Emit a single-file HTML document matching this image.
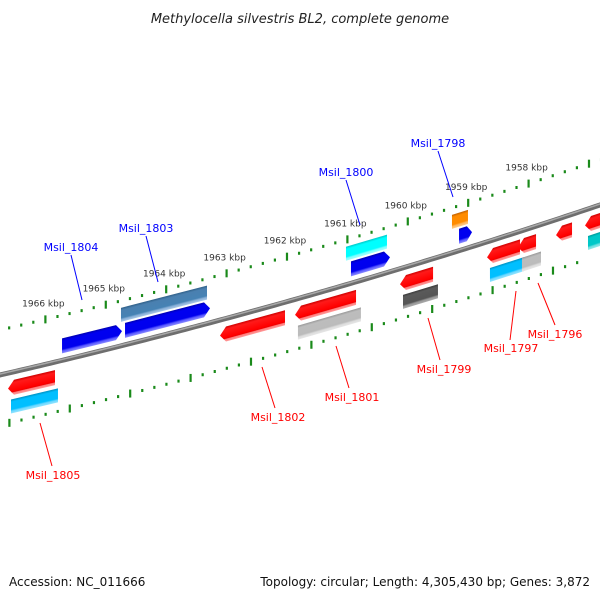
<!DOCTYPE html>
<html><head><meta charset="utf-8"><style>
html,body{margin:0;padding:0;background:#fff;}
svg{display:block;font-family:"DejaVu Sans","Liberation Sans",sans-serif;}
</style></head><body>
<svg id="chart" width="600" height="600" viewBox="0 0 600 600" xmlns="http://www.w3.org/2000/svg">
<defs>
<linearGradient id="g-red" x1="0" y1="0" x2="0" y2="1"><stop offset="0" stop-color="#c00"/><stop offset="0.18" stop-color="#ff1a1a"/><stop offset="0.72" stop-color="#f00"/><stop offset="0.8" stop-color="#e00"/><stop offset="0.84" stop-color="#ff7a7a"/><stop offset="1" stop-color="#ff9a9a"/></linearGradient>
<linearGradient id="g-blue" x1="0" y1="0" x2="0" y2="1"><stop offset="0" stop-color="#0000b0"/><stop offset="0.18" stop-color="#0000f0"/><stop offset="0.72" stop-color="#0000ee"/><stop offset="0.84" stop-color="#5a5aff"/><stop offset="1" stop-color="#8a8aff"/></linearGradient>
<linearGradient id="g-steel" x1="0" y1="0" x2="0" y2="1"><stop offset="0" stop-color="#2f5f88"/><stop offset="0.18" stop-color="#4a80b0"/><stop offset="0.72" stop-color="#4682b4"/><stop offset="0.84" stop-color="#8ab0d8"/><stop offset="1" stop-color="#a8c8e8"/></linearGradient>
<linearGradient id="g-cyan" x1="0" y1="0" x2="0" y2="1"><stop offset="0" stop-color="#00c8c8"/><stop offset="0.18" stop-color="#0ff"/><stop offset="0.72" stop-color="#0ff"/><stop offset="0.84" stop-color="#80ffff"/><stop offset="1" stop-color="#a0ffff"/></linearGradient>
<linearGradient id="g-sky" x1="0" y1="0" x2="0" y2="1"><stop offset="0" stop-color="#0090c0"/><stop offset="0.18" stop-color="#00bfff"/><stop offset="0.72" stop-color="#00bfff"/><stop offset="0.84" stop-color="#70d8ff"/><stop offset="1" stop-color="#90e4ff"/></linearGradient>
<linearGradient id="g-teal" x1="0" y1="0" x2="0" y2="1"><stop offset="0" stop-color="#009a9a"/><stop offset="0.18" stop-color="#00c8c8"/><stop offset="0.72" stop-color="#00c8c8"/><stop offset="0.84" stop-color="#70e0e0"/><stop offset="1" stop-color="#90eaea"/></linearGradient>
<linearGradient id="g-orange" x1="0" y1="0" x2="0" y2="1"><stop offset="0" stop-color="#c06000"/><stop offset="0.18" stop-color="#ff8c00"/><stop offset="0.72" stop-color="#ff8c00"/><stop offset="0.84" stop-color="#ffb860"/><stop offset="1" stop-color="#ffcc88"/></linearGradient>
<linearGradient id="g-lgray" x1="0" y1="0" x2="0" y2="1"><stop offset="0" stop-color="#999"/><stop offset="0.18" stop-color="#bdbdbd"/><stop offset="0.72" stop-color="#bbb"/><stop offset="0.84" stop-color="#ddd"/><stop offset="1" stop-color="#e6e6e6"/></linearGradient>
<linearGradient id="g-dgray" x1="0" y1="0" x2="0" y2="1"><stop offset="0" stop-color="#3a3a3a"/><stop offset="0.18" stop-color="#5a5a5a"/><stop offset="0.72" stop-color="#555"/><stop offset="0.84" stop-color="#999"/><stop offset="1" stop-color="#aaa"/></linearGradient>
</defs>
<text x="300" y="23" text-anchor="middle" font-size="13" font-style="italic" fill="#222">Methylocella silvestris BL2, complete genome</text>
<g id="ticks"></g>
<g id="backbone"></g>
<g id="features"></g>
<g id="labels" font-size="11">
<g><line x1="71" y1="255" x2="82" y2="300" stroke="#00f"/><text x="71" y="251" text-anchor="middle" fill="#00f">Msil_1804</text></g>
<g><line x1="146" y1="236" x2="158" y2="282" stroke="#00f"/><text x="146" y="232" text-anchor="middle" fill="#00f">Msil_1803</text></g>
<g><line x1="346" y1="180" x2="360" y2="225" stroke="#00f"/><text x="346" y="176" text-anchor="middle" fill="#00f">Msil_1800</text></g>
<g><line x1="438" y1="151" x2="453" y2="197" stroke="#00f"/><text x="438" y="147" text-anchor="middle" fill="#00f">Msil_1798</text></g>
<g><line x1="40" y1="423" x2="52" y2="466" stroke="#f00"/><text x="53" y="479" text-anchor="middle" fill="#f00">Msil_1805</text></g>
<g><line x1="262" y1="367" x2="275" y2="408" stroke="#f00"/><text x="278" y="421" text-anchor="middle" fill="#f00">Msil_1802</text></g>
<g><line x1="336" y1="346" x2="349" y2="388" stroke="#f00"/><text x="352" y="401" text-anchor="middle" fill="#f00">Msil_1801</text></g>
<g><line x1="428" y1="318" x2="440" y2="360" stroke="#f00"/><text x="444" y="373" text-anchor="middle" fill="#f00">Msil_1799</text></g>
<g><line x1="516" y1="291" x2="510" y2="340" stroke="#f00"/><text x="511" y="352" text-anchor="middle" fill="#f00">Msil_1797</text></g>
<g><line x1="538" y1="283" x2="555" y2="325" stroke="#f00"/><text x="555" y="338" text-anchor="middle" fill="#f00">Msil_1796</text></g>
</g>
<text x="9" y="586" font-size="12" fill="#111">Accession: NC_011666</text>
<text x="590" y="586" font-size="12" text-anchor="end" fill="#111">Topology: circular; Length: 4,305,430 bp; Genes: 3,872</text>
</svg>
<script>
// ---- data ----
const tickKbp = [1956.6,1956.8,1957,1957.2,1957.4,1957.6,1957.8,1958,1958.2,1958.4,1958.6,1958.8,1959,1959.2,1959.4,1959.6,1959.8,1960,1960.2,1960.4,1960.6,1960.8,1961,1961.2,1961.4,1961.6,1961.8,1962,1962.2,1962.4,1962.6,1962.8,1963,1963.2,1963.4,1963.6,1963.8,1964,1964.2,1964.4,1964.6,1964.8,1965,1965.2,1965.4,1965.6,1965.8,1966,1966.2,1966.4,1966.6,1966.8];
const majorLabels = ["1966 kbp","1965 kbp","1964 kbp","1963 kbp","1962 kbp","1961 kbp","1960 kbp","1959 kbp","1958 kbp"];
const majorKbp = [1966,1965,1964,1963,1962,1961,1960,1959,1958];
const featNames = ["msil-1804","msil-1803","msil-1800","msil-1798","msil-1803-domain","msil-1800-domain","msil-1798-domain","msil-1805","msil-1802","msil-1801","msil-1799","msil-1797-a","msil-1797-b","msil-1796","msil-next","msil-1805-domain","msil-1801-domain","msil-1799-domain","msil-1797-domain","msil-1796-domain","msil-next-domain"];
const featStart = [1965.513,1964.470,1960.729,1958.940,1964.646,1960.921,1959.166,1966.247,1962.737,1961.495,1959.757,1958.316,1957.803,1957.174,1956.694,1966.076,1961.325,1959.586,1958.146,1957.616,1956.523];
const featEnd   = [1964.520,1963.063,1960.083,1958.725,1963.222,1960.242,1958.901,1965.469,1961.661,1960.485,1959.210,1957.770,1957.505,1956.909,1956.280,1965.298,1960.282,1959.007,1957.583,1957.301,1956.159];
const featLane  = [0,0,0,0,1,1,1,2,2,2,2,2,2,2,2,3,3,3,3,3,3];
const featColor = ["blue","blue","blue","blue","steel","cyan","orange","red","red","red","red","red","red","red","red","sky","lgray","dgray","sky","lgray","teal"];
// ---- geometry ----
const NS="http://www.w3.org/2000/svg";
function base(x){return 375-0.23*x-0.0000889*x*x;}
function laneX0(r){return 45-(r+45)*36/93;}
function xScale(kbp,r){return laneX0(r)+(1966-kbp)*60.4;}
const laneRad=[-13,-30,12,31];
const laneTop=[-22,-38,8,27], laneBot=[-7,-24,23,41], laneArrow=[1,0,-1,0];
// backbone
const bb=document.getElementById('backbone');
let pts=[];for(let x=-5;x<=605;x+=5)pts.push(x+','+base(x).toFixed(2));
const p1=document.createElementNS(NS,'polyline');


p1.setAttribute('points',pts.join(' '));p1.setAttribute('fill','none');p1.setAttribute('stroke','#6e6e6e');p1.setAttribute('stroke-width','5');bb.appendChild(p1);
let pts2=[];for(let x=-5;x<=605;x+=5)pts2.push(x+','+(base(x)-1).toFixed(2));
const p2=document.createElementNS(NS,'polyline');


p2.setAttribute('points',pts2.join(' '));p2.setAttribute('fill','none');p2.setAttribute('stroke','#a8a8a8');p2.setAttribute('stroke-width','1.5');bb.appendChild(p2);
// ticks
const tg=document.getElementById('ticks');
[[-46,-45],[47,50]].forEach(function(tr){
  tickKbp.forEach(function(k){
    const x=xScale(k,tr[0]); if(x<-2||x>602)return;
    const major=Math.abs(k-Math.round(k))<1e-6;
    const y=base(x)+tr[1]; const h=major?8:3;
    const l=document.createElementNS(NS,'line');
    
    
    l.setAttribute('x1',x);l.setAttribute('x2',x);l.setAttribute('y1',y-h/2);l.setAttribute('y2',y+h/2);
    l.setAttribute('stroke','#1a8a1a');l.setAttribute('stroke-width','2.2');tg.appendChild(l);
  });
});
majorKbp.forEach(function(k,i){
  const x=xScale(k,-46); const y=base(x)-45-13;
  const t=document.createElementNS(NS,'text');
  
  
  t.setAttribute('x',x-2);t.setAttribute('y',y);t.setAttribute('text-anchor','middle');t.setAttribute('font-size','9');t.setAttribute('fill','#333');
  t.textContent=majorLabels[i];tg.appendChild(t);
});
// features
const fg=document.getElementById('features');
featNames.forEach(function(n,i){
  const ln=featLane[i];
  const x1=xScale(featStart[i],laneRad[ln]), x2=xScale(featEnd[i],laneRad[ln]);
  const w=x2-x1, slope=(base(x2)-base(x1))/w;
  const g=document.createElementNS(NS,'g');
  g.setAttribute('transform','matrix(1,'+slope.toFixed(4)+',0,1,'+x1.toFixed(2)+','+base(x1).toFixed(2)+')');
  const t=laneTop[ln], b=laneBot[ln], m=(t+b)/2, a=Math.min(6,w*0.4);
  let d;
  if(laneArrow[ln]===1) d='M0,'+t+' L'+(w-a)+','+t+' L'+w+','+m+' L'+(w-a)+','+b+' L0,'+b+' Z';
  else if(laneArrow[ln]===-1) d='M'+a+','+t+' L'+w+','+t+' L'+w+','+b+' L'+a+','+b+' L0,'+m+' Z';
  else d='M0,'+t+' L'+w+','+t+' L'+w+','+b+' L0,'+b+' Z';
  const p=document.createElementNS(NS,'path');
  
  
  p.setAttribute('d',d);p.setAttribute('fill','url(#g-'+featColor[i]+')');
  g.appendChild(p);fg.appendChild(g);
});
</script>
</body></html>
